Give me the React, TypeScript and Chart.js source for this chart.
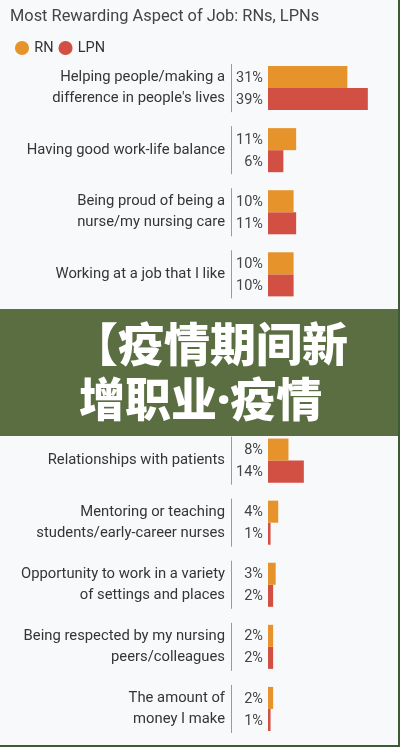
import React, { useEffect, useRef } from "react";
import { Chart, registerables } from "chart.js";

Chart.register(...registerables);

// categories (rows 5 and 6 sit under the banner, values estimated)
const categories: string[][] = [
  ["Helping people/making a", "difference in people's lives"],
  ["Having good work-life balance"],
  ["Being proud of being a", "nurse/my nursing care"],
  ["Working at a job that I like"],
  ["Working with a great team"],
  ["Job security"],
  ["Relationships with patients"],
  ["Mentoring or teaching", "students/early-career nurses"],
  ["Opportunity to work in a variety", "of settings and places"],
  ["Being respected by my nursing", "peers/colleagues"],
  ["The amount of", "money I make"],
];
const rnValues = [31, 11, 10, 10, 9, 9, 8, 4, 3, 2, 2];
const lpnValues = [39, 6, 11, 10, 8, 7, 14, 1, 2, 2, 1];

const RN_COLOR = "#e6932b";
const LPN_COLOR = "#d24f43";
const FONT = "Roboto, 'Noto Sans', sans-serif";

// percent labels left of the bars + short divider per group
const labelPlugin = {
  id: "valueLabels",
  afterDatasetsDraw(chart: Chart) {
    const { ctx } = chart;
    const zeroX = chart.scales.x.getPixelForValue(0);
    const lineX = Math.round(chart.chartArea.left) - 0.5;
    ctx.save();
    ctx.font = `14.5px ${FONT}`;
    ctx.fillStyle = "#444";
    ctx.textAlign = "right";
    ctx.textBaseline = "middle";
    chart.data.datasets.forEach((ds, di) => {
      const meta = chart.getDatasetMeta(di);
      meta.data.forEach((bar: any, i) => {
        ctx.fillText(`${ds.data[i]}%`, zeroX - 5, bar.y + 1);
      });
    });
    const m0 = chart.getDatasetMeta(0);
    const m1 = chart.getDatasetMeta(1);
    ctx.strokeStyle = "#9a9a9a";
    ctx.lineWidth = 1;
    m0.data.forEach((bar: any, i) => {
      const b1: any = m1.data[i];
      ctx.beginPath();
      ctx.moveTo(lineX, bar.y - bar.height / 2 - 2);
      ctx.lineTo(lineX, b1.y + b1.height / 2 + 2);
      ctx.stroke();
    });
    ctx.restore();
  },
};

const bannerLine: React.CSSProperties = {
  position: "absolute",
  whiteSpace: "nowrap",
  lineHeight: "55px",
};

const App: React.FC = () => {
  const chartRef = useRef<HTMLCanvasElement>(null);
  const chartInstance = useRef<Chart | null>(null);

  useEffect(() => {
    document.body.style.margin = "0";
    if (chartRef.current) {
      const ctx = chartRef.current.getContext("2d");
      if (ctx) {
        if (chartInstance.current) {
          chartInstance.current.destroy();
        }
        chartInstance.current = new Chart(ctx, {
          type: "bar",
          data: {
            labels: categories,
            datasets: [
              { label: "RN", data: rnValues, backgroundColor: RN_COLOR },
              { label: "LPN", data: lpnValues, backgroundColor: LPN_COLOR },
            ],
          },
          options: {
            indexAxis: "y",
            animation: false,
            responsive: false,
            maintainAspectRatio: false,
            layout: { padding: { left: 10, right: 2, top: 0, bottom: 0 } },
            datasets: {
              bar: { categoryPercentage: 0.71, barPercentage: 1.0 },
            },
            scales: {
              x: {
                display: false,
                min: -14.06,
                max: 50,
              },
              y: {
                grid: { display: false, drawTicks: false },
                border: { display: false },
                ticks: {
                  padding: 7,
                  color: "#353535",
                  font: { family: FONT, size: 14.8, lineHeight: 1.42 },
                },
                afterFit: (scale: any) => {
                  scale.width = 222;
                },
              },
            },
            plugins: {
              title: {
                display: true,
                text: "Most Rewarding Aspect of Job: RNs, LPNs",
                align: "start",
                color: "#444",
                font: { family: FONT, size: 16.4, weight: "normal" },
                padding: { top: 7, bottom: 7.1 },
              },
              legend: {
                display: true,
                align: "start",
                maxHeight: 23.25,
                labels: {
                  usePointStyle: true,
                  pointStyle: "circle",
                  boxWidth: 10,
                  boxHeight: 10,
                  padding: 7,
                  color: "#333",
                  font: { family: FONT, size: 14.5 },
                },
              },
              tooltip: { enabled: false },
            },
          },
          plugins: [labelPlugin],
        });
      }
    }
    return () => {
      if (chartInstance.current) {
        chartInstance.current.destroy();
        chartInstance.current = null;
      }
    };
  }, []);

  return (
    <div
      style={{
        position: "relative",
        width: 400,
        height: 747,
        background: "#f7f9fb",
        boxSizing: "border-box",
        borderRight: "2px solid #3f5a36",
        borderBottom: "2px solid #3f5a36",
        overflow: "hidden",
      }}
    >
      <canvas ref={chartRef} width={398} height={768} style={{ display: "block" }}></canvas>
      <div
        style={{
          position: "absolute",
          left: 0,
          top: 309,
          width: 400,
          height: 127,
          background: "#5b6e41",
          color: "#fff",
          fontFamily: "'Noto Sans CJK SC', sans-serif",
          fontWeight: 900,
          fontSize: 46,
        }}
      >
        <div style={{ ...bannerLine, left: 72, top: 5 }}>【疫情期间新</div>
        <div style={{ ...bannerLine, left: 79, top: 60 }}>
          增职业<span style={{ fontFamily: "'Noto Sans', sans-serif" }}>·</span>疫情
        </div>
      </div>
    </div>
  );
};

export default App;
